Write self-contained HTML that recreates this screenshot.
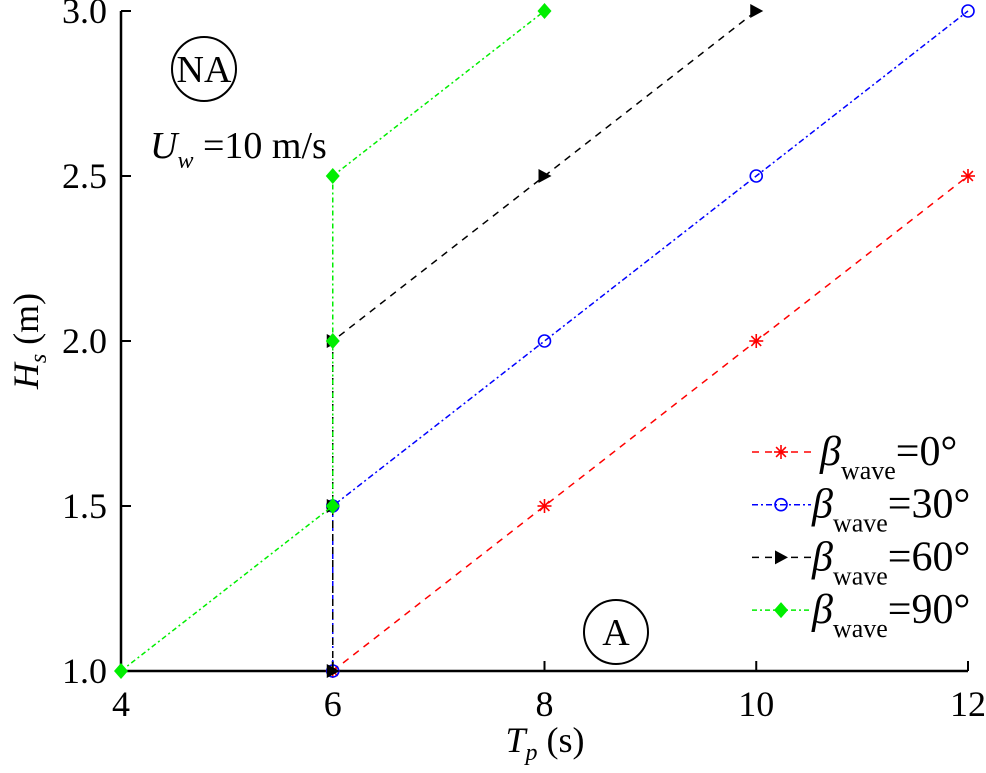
<!DOCTYPE html>
<html><head><meta charset="utf-8"><style>
body{margin:0;background:#fff}
svg{display:block;font-family:"Liberation Serif",serif}
</style></head><body>
<svg id="c" width="986" height="773">
<g id="axes"></g>
<g id="series"></g>
<g id="legend"></g>
<g>
<circle cx="204" cy="69" r="32" fill="none" stroke="#000" stroke-width="2"/>
<text x="204" y="82" font-size="38" text-anchor="middle">NA</text></g>
<g>
<circle cx="616" cy="632" r="32" fill="none" stroke="#000" stroke-width="2"/>
<text x="616" y="645" font-size="38" text-anchor="middle">A</text></g>
<text x="150" y="158" font-size="38"><tspan font-style="italic">U</tspan><tspan font-style="italic" font-size="24" dy="10">w</tspan><tspan dy="-10"> =10 m/s</tspan></text>
<text x="545" y="752" font-size="36" text-anchor="middle"><tspan font-style="italic">T</tspan><tspan font-style="italic" font-size="24" dy="8">p</tspan><tspan dy="-8"> (s)</tspan></text>
<text transform="translate(38,341) rotate(-90)" font-size="36" text-anchor="middle"><tspan font-style="italic">H</tspan><tspan font-style="italic" font-size="24" dy="8">s</tspan><tspan dy="-8"> (m)</tspan></text>
</svg>
<script>
const xTicks=[4,6,8,10,12];
const yTicks=[1.0,1.5,2.0,2.5,3.0];
const seriesNames=["0","30","60","90"];
const xs0=[6,8,10,12], ys0=[1,1.5,2,2.5];
const xs30=[6,6,8,10,12], ys30=[1,1.5,2,2.5,3];
const xs60=[6,6,6,8,10], ys60=[1,1.5,2,2.5,3];
const xs90=[4,6,6,6,8], ys90=[1,1.5,2,2.5,3];
const X0=121,X1=968,Y0=671,Y1=11;
const sx=v=>X0+(v-4)/8*(X1-X0);
const sy=v=>Y0-(v-1)/2*(Y0-Y1);
const NS="http://www.w3.org/2000/svg";
function mk(t,a,p){const e=document.createElementNS(NS,t);for(const k in a)e.setAttribute(k,a[k]);p.appendChild(e);return e;}
const ax=document.getElementById('axes');
const xl=mk('line',{x1:X0,y1:Y0,x2:X1,y2:Y0,stroke:'#000','stroke-width':2.5},ax);


const yl=mk('line',{x1:X0,y1:Y0,x2:X0,y2:Y1,stroke:'#000','stroke-width':2.5},ax);


xTicks.forEach(v=>{mk('line',{x1:sx(v),y1:Y0,x2:sx(v),y2:Y0-10,stroke:'#000','stroke-width':2},ax);
const t=mk('text',{x:sx(v),y:Y0+45,'font-size':36,'text-anchor':'middle'},ax);t.textContent=v;

});
yTicks.forEach(v=>{mk('line',{x1:X0,y1:sy(v),x2:X0+10,y2:sy(v),stroke:'#000','stroke-width':2},ax);
const t=mk('text',{x:X0-14,y:sy(v)+12,'font-size':36,'text-anchor':'end'},ax);t.textContent=v.toFixed(1);

});
const styles=[{c:'#ff0000',d:'7,6',m:'star'},{c:'#0000ff',d:'6,3,2,3',m:'circle'},{c:'#000',d:'7,6',m:'tri'},{c:'#00ee00',d:'5,3,2,3',m:'diamond'}];
function marker(g,m,x,y,c){
 if(m==='star'){const s=7;[[s,0],[0,s],[s*.7,s*.7],[s*.7,-s*.7]].forEach(([a,b])=>mk('line',{x1:x-a,y1:y-b,x2:x+a,y2:y+b,stroke:c,'stroke-width':1.6},g));}
 else if(m==='circle')mk('circle',{cx:x,cy:y,r:6,fill:'none',stroke:c,'stroke-width':1.6},g);
 else if(m==='tri')mk('polygon',{points:`${x-6},${y-7} ${x+7},${y} ${x-6},${y+7}`,fill:c},g);
 else mk('polygon',{points:`${x},${y-8} ${x+7},${y} ${x},${y+8} ${x-7},${y}`,fill:c},g);
}
const data=[[xs0,ys0],[xs30,ys30],[xs60,ys60],[xs90,ys90]];
const sg=document.getElementById('series');
data.forEach(([xs,ys],i)=>{const st=styles[i];const g=mk('g',{},sg);


mk('polyline',{points:xs.map((x,j)=>sx(x)+','+sy(ys[j])).join(' '),fill:'none',stroke:st.c,'stroke-width':1.5,'stroke-dasharray':st.d},g);
xs.forEach((x,j)=>marker(g,st.m,sx(x),sy(ys[j]),st.c));});
const lg=document.getElementById('legend');
seriesNames.forEach((n,i)=>{const st=styles[i];const y=452+i*52.7;const g=mk('g',{},lg);


mk('line',{x1:752,y1:y,x2:811,y2:y,stroke:st.c,'stroke-width':1.5,'stroke-dasharray':st.d},g);
marker(g,st.m,781,y,st.c);
const t=mk('text',{x:i===0?820:812,y:y+13,'font-size':42},g);
t.innerHTML='<tspan font-style="italic">β</tspan><tspan font-size="26" dy="14">wave</tspan><tspan dy="-14">='+n+'°</tspan>';});
</script>
</body></html>
